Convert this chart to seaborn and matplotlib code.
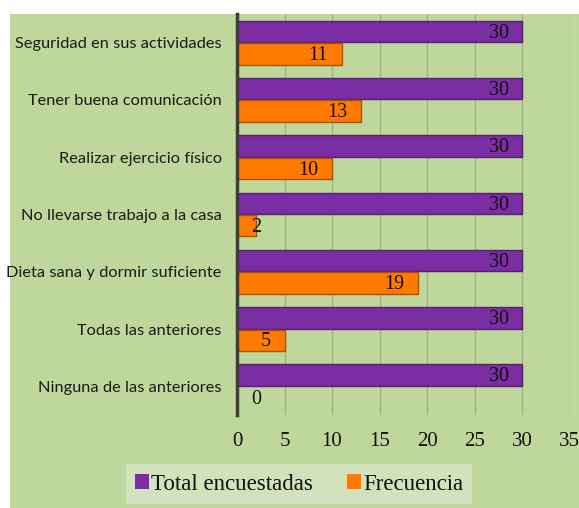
"""Bar chart: medidas de autocuidado (total encuestadas vs frecuencia)."""
import matplotlib
matplotlib.use('Agg')
import matplotlib.pyplot as plt
from matplotlib.patches import Rectangle
import pandas as pd
import seaborn as sns

categorias = ['Seguridad en sus actividades', 'Tener buena comunicación',
              'Realizar ejercicio físico', 'No llevarse trabajo a la casa',
              'Dieta sana y dormir suficiente', 'Todas las anteriores',
              'Ninguna de las anteriores']
total = [30, 30, 30, 30, 30, 30, 30]
frecuencia = [11, 13, 10, 2, 19, 5, 0]
series = ['Total encuestadas', 'Frecuencia']

df = pd.DataFrame({
    'categoria': categorias * 2,
    'valor': total + frecuencia,
    'serie': [series[0]] * len(categorias) + [series[1]] * len(categorias),
})

verde = '#bfd79b'
sns.set_style('white')
plt.rcParams['font.family'] = ['Liberation Serif', 'DejaVu Serif']

fig = plt.figure(figsize=(5.79, 5.08), dpi=100)
fig.patch.set_facecolor('white')
# green chart area (white strip on top and left)
fig.add_artist(Rectangle((10 / 579, 0), 1, 1 - 14 / 508, transform=fig.transFigure,
                         facecolor=verde, edgecolor='none', zorder=-10))

ax = fig.add_axes([237 / 579, 1 - 415 / 508, (569.5 - 237) / 579, (415 - 14) / 508])
ax.set_facecolor(verde)

sns.barplot(data=df, y='categoria', x='valor', hue='serie', orient='h',
            palette=['#7b2da3', '#ff7a00'], width=0.78, gap=0.04,
            linewidth=1.0, edgecolor='none', saturation=1, ax=ax)

# darker edges like the bevel of the original
for cont, edge in zip(ax.containers, ['#55206f', '#a8520a']):
    for bar in cont:
        bar.set_edgecolor(edge)

# value labels near the end of each bar
for cont, vals in zip(ax.containers, [total, frecuencia]):
    for bar, v in zip(cont, vals):
        y = bar.get_y() + bar.get_height() / 2
        ax.text(max(v - 1.4, 2.5), y + 0.03, f'{v}', ha='right', va='center',
                fontsize=14.5, color='#111111')

ax.set_xlim(0, 35)
ax.set_xticks(range(0, 36, 5))
ax.grid(axis='x', color='#9fb389', linewidth=1.0)
ax.set_axisbelow(True)
ax.set(xlabel='', ylabel='')
for s in ['top', 'right', 'bottom']:
    ax.spines[s].set_visible(False)
ax.spines['left'].set_color('#3c3c3c')
ax.spines['left'].set_linewidth(2.5)
ax.tick_params(axis='x', length=0, pad=12, labelsize=15, labelcolor='#111111')
ax.tick_params(axis='y', length=0, pad=11)
for lab in ax.get_yticklabels():
    lab.set_fontfamily(['Lato', 'DejaVu Sans'])
    lab.set_fontsize(11.8)
    lab.set_color('#1a1a1a')

ax.legend_.remove()
handles, labels = ax.get_legend_handles_labels()
leg = fig.legend(handles, labels, loc='center', bbox_to_anchor=(299 / 579, 1 - 484 / 508),
                 ncol=2, frameon=True, fancybox=False, fontsize=16.5,
                 handlelength=0.6, handleheight=0.6, handletextpad=0.1,
                 columnspacing=1.5, borderpad=0.4, labelcolor='#111111')
leg.get_frame().set_facecolor('#d6e6c6')
leg.get_frame().set_edgecolor('none')

fig.savefig('out.png', dpi=100, facecolor=fig.get_facecolor())
